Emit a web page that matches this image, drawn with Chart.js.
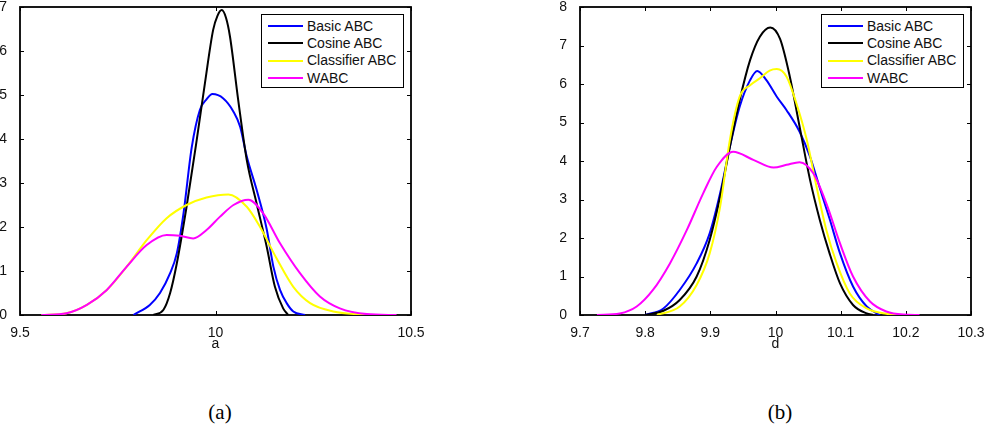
<!DOCTYPE html>
<html>
<head>
<meta charset="utf-8">
<script src="https://cdn.jsdelivr.net/npm/chart.js@4.4.1/dist/chart.umd.min.js"></script>
<style>
  html, body { margin: 0; padding: 0; background: #fff; }
  body { width: 986px; height: 428px; position: relative; overflow: hidden; font-family: "Liberation Sans", Arial, Helvetica, sans-serif; }
  .wrap { position: absolute; top: 0; }
  .legend { position: absolute; border: 1.5px solid #000; background: #fff; box-sizing: border-box; width: 143px; height: 74px; }
  .legend .row { position: absolute; left: 0; height: 17px; width: 100%; }
  .legend .swatch { position: absolute; left: 6px; width: 35px; height: 2px; top: 7.5px; }
  .legend .lbl { position: absolute; left: 45px; top: 0; font-size: 14px; line-height: 17px; color: #111; white-space: nowrap; }
  .caption { position: absolute; font-family: "Liberation Serif", "Times New Roman", serif; font-size: 21px; color: #000; transform: translateX(-50%); line-height: 1; }
</style>
</head>
<body>
<div class="wrap" style="left:0px"><canvas id="ca" width="440" height="360"></canvas></div>
<div class="wrap" style="left:560px"><canvas id="cb" width="426" height="360"></canvas></div>
<div class="caption" style="left:220px; top:402px;">(a)</div>
<div class="caption" style="left:780px; top:402px;">(b)</div>
<script>
// ---------- data ----------
const seriesNames  = ['Basic ABC', 'Cosine ABC', 'Classifier ABC', 'WABC'];
const seriesColors = ['#0000ff', '#000000', '#ffff00', '#ff00ff'];

// Panel (a): parameter a
const aTicksX = [9.5, 10, 10.5];
const aTicksY = [0, 1, 2, 3, 4, 5, 6, 7];
const aBasicX = [9.790, 9.832, 9.858, 9.884, 9.901, 9.918, 9.939, 9.960, 9.977, 9.992, 10.020, 10.046, 10.063, 10.080, 10.105, 10.131, 10.148, 10.165, 10.182, 10.199, 10.229];
const aBasicY = [0, 0.23, 0.5, 0.95, 1.4, 2.3, 3.8, 4.66, 4.9, 5.02, 4.92, 4.62, 4.28, 3.6, 2.85, 1.95, 1.1, 0.57, 0.27, 0.08, 0];
const aCosineX = [9.841, 9.867, 9.884, 9.901, 9.926, 9.952, 9.973, 9.994, 10.005, 10.016, 10.027, 10.037, 10.058, 10.080, 10.105, 10.131, 10.152, 10.173, 10.186];
const aCosineY = [0, 0.12, 0.5, 1.17, 2.46, 3.98, 5.27, 6.48, 6.8, 6.93, 6.75, 6.33, 4.89, 3.52, 2.54, 1.55, 0.64, 0.15, 0];
const aClassX = [9.555, 9.619, 9.671, 9.722, 9.773, 9.824, 9.875, 9.926, 9.977, 10.033, 10.080, 10.114, 10.156, 10.199, 10.242, 10.301, 10.391];
const aClassY = [0, 0.04, 0.23, 0.57, 1.1, 1.70, 2.2, 2.5, 2.67, 2.74, 2.46, 2.0, 1.29, 0.64, 0.27, 0.08, 0];
const aWabcX = [9.555, 9.619, 9.671, 9.722, 9.773, 9.824, 9.875, 9.909, 9.943, 9.977, 10.011, 10.046, 10.084, 10.122, 10.165, 10.216, 10.267, 10.318, 10.387, 10.463];
const aWabcY = [0, 0.04, 0.23, 0.57, 1.1, 1.59, 1.82, 1.80, 1.74, 1.93, 2.23, 2.5, 2.62, 2.31, 1.63, 0.95, 0.42, 0.15, 0.02, 0];

// Panel (b): parameter d
const bTicksX = [9.7, 9.8, 9.9, 10, 10.1, 10.2, 10.3];
const bTicksY = [0, 1, 2, 3, 4, 5, 6, 7, 8];
const bBasicX = [9.800, 9.828, 9.853, 9.879, 9.899, 9.915, 9.930, 9.945, 9.961, 9.972, 9.986, 10.002, 10.017, 10.037, 10.053, 10.068, 10.083, 10.099, 10.119, 10.140, 10.160];
const bBasicY = [0, 0.17, 0.65, 1.34, 2.12, 3.16, 4.37, 5.41, 6.1, 6.34, 6.1, 5.67, 5.32, 4.76, 4.11, 3.3, 2.5, 1.6, 0.74, 0.22, 0];
const bCosineX = [9.800, 9.828, 9.853, 9.879, 9.899, 9.915, 9.930, 9.945, 9.961, 9.976, 9.992, 10.007, 10.022, 10.037, 10.053, 10.068, 10.083, 10.099, 10.119, 10.140, 10.150];
const bCosineY = [0, 0.11, 0.39, 1.0, 1.95, 3.07, 4.37, 5.58, 6.62, 7.23, 7.47, 7.17, 6.19, 4.89, 3.51, 2.47, 1.6, 0.82, 0.26, 0.04, 0];
const bClassX = [9.818, 9.853, 9.879, 9.899, 9.915, 9.930, 9.945, 9.961, 9.976, 9.991, 10.002, 10.017, 10.032, 10.048, 10.063, 10.078, 10.094, 10.114, 10.140, 10.170, 10.196];
const bClassY = [0, 0.22, 0.78, 1.6, 2.81, 4.55, 5.67, 5.97, 6.15, 6.35, 6.39, 6.19, 5.5, 4.55, 3.33, 2.21, 1.34, 0.56, 0.17, 0.03, 0];
const bWabcX = [9.726, 9.761, 9.787, 9.812, 9.838, 9.864, 9.889, 9.910, 9.935, 9.966, 9.997, 10.017, 10.037, 10.058, 10.078, 10.099, 10.119, 10.145, 10.170, 10.196, 10.221];
const bWabcY = [0, 0.04, 0.22, 0.65, 1.34, 2.21, 3.16, 3.85, 4.24, 4.03, 3.83, 3.9, 3.97, 3.68, 2.9, 1.86, 1.0, 0.35, 0.09, 0.01, 0];

// ---------- chart building ----------
Chart.defaults.font.family = '"Liberation Sans", Arial, Helvetica, sans-serif';
Chart.defaults.font.size = 14;
Chart.defaults.color = '#111';

function pts(xs, ys) { return xs.map((x, i) => ({ x: x, y: ys[i] })); }
function fmt(v) { return String(Number(Number(v).toFixed(4))); }

const framePlugin = {
  id: 'frame',
  beforeDatasetsDraw(chart) {
    const { ctx, chartArea: a, scales } = chart;
    const x = scales.x, y = scales.y;
    const L = 4;
    ctx.save();
    ctx.strokeStyle = '#000';
    ctx.lineWidth = 1;
    ctx.beginPath();
    x.ticks.forEach(t => {
      const px = Math.round(x.getPixelForValue(t.value)) + 0.5;
      ctx.moveTo(px, a.bottom); ctx.lineTo(px, a.bottom - L);
      ctx.moveTo(px, a.top); ctx.lineTo(px, a.top + L);
    });
    y.ticks.forEach(t => {
      const py = Math.round(y.getPixelForValue(t.value)) + 0.5;
      ctx.moveTo(a.left, py); ctx.lineTo(a.left + L, py);
      ctx.moveTo(a.right, py); ctx.lineTo(a.right - L, py);
    });
    ctx.stroke();
    ctx.lineWidth = 1.8;
    ctx.strokeRect(a.left, a.top, a.right - a.left, a.bottom - a.top);
    ctx.restore();
  }
};

function makeChart(canvasId, xMin, xMax, xStep, yMax, xTitle, rightPad, series) {
  const datasets = series.map((s, i) => ({
    label: seriesNames[i],
    data: pts(s[0], s[1]),
    borderColor: seriesColors[i],
    backgroundColor: seriesColors[i],
    borderWidth: 2,
    pointRadius: 0,
    fill: false,
    cubicInterpolationMode: 'monotone',
    order: series.length - i
  }));
  return new Chart(document.getElementById(canvasId), {
    type: 'line',
    data: { datasets: datasets },
    plugins: [framePlugin],
    options: {
      responsive: false,
      animation: false,
      devicePixelRatio: 1,
      layout: { padding: { top: 7, right: rightPad, left: 0, bottom: 0 } },
      plugins: { legend: { display: false }, tooltip: { enabled: false } },
      scales: {
        x: {
          type: 'linear', min: xMin, max: xMax,
          grid: { display: false }, border: { display: false },
          ticks: { stepSize: xStep, padding: 2, maxRotation: 0, autoSkip: false, callback: fmt },
          title: { display: true, text: xTitle, padding: { top: 0, bottom: 7 }, font: { size: 14 } },
          afterFit(sc) { sc.height = 45; sc.paddingLeft = 0; sc.paddingRight = 0; }
        },
        y: {
          type: 'linear', min: 0, max: yMax,
          grid: { display: false }, border: { display: false },
          ticks: { stepSize: 1, padding: 5, callback: fmt },
          afterFit(sc) { sc.width = 20; sc.paddingTop = 0; sc.paddingBottom = 0; }
        }
      }
    }
  });
}

function makeLegend(chart, canvasLeft) {
  const a = chart.chartArea;
  const box = document.createElement('div');
  box.className = 'legend';
  box.style.left = (canvasLeft + a.right - 7 - 143) + 'px';
  box.style.top = (a.top + 7) + 'px';
  seriesNames.forEach((name, i) => {
    const row = document.createElement('div');
    row.className = 'row';
    row.style.top = (2.5 + i * 17.4) + 'px';
    const sw = document.createElement('div');
    sw.className = 'swatch';
    sw.style.background = seriesColors[i];
    const lb = document.createElement('div');
    lb.className = 'lbl';
    lb.textContent = name;
    row.appendChild(sw); row.appendChild(lb);
    box.appendChild(row);
  });
  document.body.appendChild(box);
}

const chartA = makeChart('ca', 9.5, 10.5, 0.5, 7, 'a', 29, [
  [aBasicX, aBasicY], [aCosineX, aCosineY], [aClassX, aClassY], [aWabcX, aWabcY]
]);
const chartB = makeChart('cb', 9.7, 10.3, 0.1, 8, 'd', 15, [
  [bBasicX, bBasicY], [bCosineX, bCosineY], [bClassX, bClassY], [bWabcX, bWabcY]
]);
makeLegend(chartA, 0);
makeLegend(chartB, 560);
</script>
</body>
</html>
